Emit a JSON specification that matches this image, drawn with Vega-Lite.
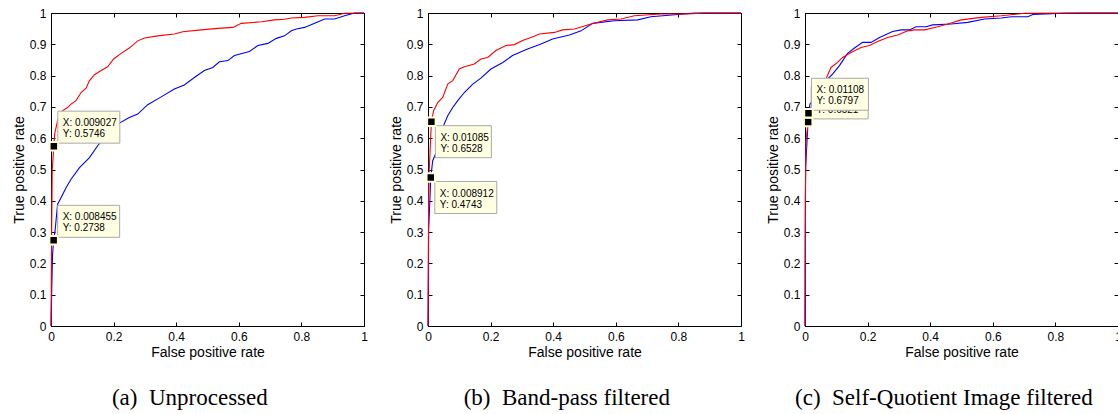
{
  "$schema": "https://vega.github.io/schema/vega-lite/v6.json",
  "padding": {"left": 11, "top": 6, "right": 0, "bottom": 0},
  "background": "white",
  "spacing": 64,
  "bounds": "flush",
  "config": {
    "view": {"stroke": "black", "strokeWidth": 1},
    "axis": {"grid": false, "domain": false, "tickColor": "black", "tickSize": -4, "tickWidth": 1, "labelFont": "Liberation Sans", "labelFontSize": 12, "labelColor": "black", "titleFont": "Liberation Sans", "titleFontSize": 14, "titleFontWeight": "normal", "titleColor": "black", "labelFlush": false, "labelPadding": 9, "titlePadding": 3},
    "title": {"font": "Liberation Serif", "fontSize": 23, "fontWeight": "normal", "color": "black"}
  },
  "datasets": {
    "roc": [
      {"panel":"a","method":"Classifier A","fpr":0,"tpr":0},{"panel":"a","method":"Classifier A","fpr":0.002,"tpr":0.101},{"panel":"a","method":"Classifier A","fpr":0.005,"tpr":0.229},{"panel":"a","method":"Classifier A","fpr":0.008455,"tpr":0.2738},{"panel":"a","method":"Classifier A","fpr":0.013,"tpr":0.304},{"panel":"a","method":"Classifier A","fpr":0.021,"tpr":0.389},{"panel":"a","method":"Classifier A","fpr":0.032,"tpr":0.41},{"panel":"a","method":"Classifier A","fpr":0.048,"tpr":0.442},{"panel":"a","method":"Classifier A","fpr":0.064,"tpr":0.469},{"panel":"a","method":"Classifier A","fpr":0.091,"tpr":0.506},{"panel":"a","method":"Classifier A","fpr":0.123,"tpr":0.538},{"panel":"a","method":"Classifier A","fpr":0.149,"tpr":0.576},{"panel":"a","method":"Classifier A","fpr":0.181,"tpr":0.613},{"panel":"a","method":"Classifier A","fpr":0.213,"tpr":0.645},{"panel":"a","method":"Classifier A","fpr":0.25,"tpr":0.666},{"panel":"a","method":"Classifier A","fpr":0.277,"tpr":0.677},{"panel":"a","method":"Classifier A","fpr":0.309,"tpr":0.707},{"panel":"a","method":"Classifier A","fpr":0.352,"tpr":0.732},{"panel":"a","method":"Classifier A","fpr":0.394,"tpr":0.757},{"panel":"a","method":"Classifier A","fpr":0.426,"tpr":0.77},{"panel":"a","method":"Classifier A","fpr":0.458,"tpr":0.794},{"panel":"a","method":"Classifier A","fpr":0.49,"tpr":0.816},{"panel":"a","method":"Classifier A","fpr":0.517,"tpr":0.826},{"panel":"a","method":"Classifier A","fpr":0.538,"tpr":0.844},{"panel":"a","method":"Classifier A","fpr":0.565,"tpr":0.848},{"panel":"a","method":"Classifier A","fpr":0.586,"tpr":0.864},{"panel":"a","method":"Classifier A","fpr":0.634,"tpr":0.877},{"panel":"a","method":"Classifier A","fpr":0.661,"tpr":0.896},{"panel":"a","method":"Classifier A","fpr":0.693,"tpr":0.903},{"panel":"a","method":"Classifier A","fpr":0.72,"tpr":0.919},{"panel":"a","method":"Classifier A","fpr":0.746,"tpr":0.927},{"panel":"a","method":"Classifier A","fpr":0.768,"tpr":0.943},{"panel":"a","method":"Classifier A","fpr":0.784,"tpr":0.949},{"panel":"a","method":"Classifier A","fpr":0.81,"tpr":0.954},{"panel":"a","method":"Classifier A","fpr":0.848,"tpr":0.97},{"panel":"a","method":"Classifier A","fpr":0.874,"tpr":0.981},{"panel":"a","method":"Classifier A","fpr":0.906,"tpr":0.981},{"panel":"a","method":"Classifier A","fpr":0.938,"tpr":0.991},{"panel":"a","method":"Classifier A","fpr":0.959,"tpr":0.997},{"panel":"a","method":"Classifier A","fpr":0.97,"tpr":1},{"panel":"a","method":"Classifier A","fpr":1,"tpr":1},
      {"panel":"a","method":"Classifier B","fpr":0,"tpr":0},{"panel":"a","method":"Classifier B","fpr":0.002,"tpr":0.3},{"panel":"a","method":"Classifier B","fpr":0.004,"tpr":0.5},{"panel":"a","method":"Classifier B","fpr":0.009027,"tpr":0.5746},{"panel":"a","method":"Classifier B","fpr":0.012,"tpr":0.615},{"panel":"a","method":"Classifier B","fpr":0.021,"tpr":0.656},{"panel":"a","method":"Classifier B","fpr":0.037,"tpr":0.688},{"panel":"a","method":"Classifier B","fpr":0.053,"tpr":0.698},{"panel":"a","method":"Classifier B","fpr":0.064,"tpr":0.709},{"panel":"a","method":"Classifier B","fpr":0.08,"tpr":0.72},{"panel":"a","method":"Classifier B","fpr":0.096,"tpr":0.746},{"panel":"a","method":"Classifier B","fpr":0.112,"tpr":0.76},{"panel":"a","method":"Classifier B","fpr":0.123,"tpr":0.784},{"panel":"a","method":"Classifier B","fpr":0.139,"tpr":0.803},{"panel":"a","method":"Classifier B","fpr":0.16,"tpr":0.816},{"panel":"a","method":"Classifier B","fpr":0.181,"tpr":0.828},{"panel":"a","method":"Classifier B","fpr":0.2,"tpr":0.853},{"panel":"a","method":"Classifier B","fpr":0.224,"tpr":0.871},{"panel":"a","method":"Classifier B","fpr":0.25,"tpr":0.888},{"panel":"a","method":"Classifier B","fpr":0.277,"tpr":0.911},{"panel":"a","method":"Classifier B","fpr":0.299,"tpr":0.92},{"panel":"a","method":"Classifier B","fpr":0.341,"tpr":0.927},{"panel":"a","method":"Classifier B","fpr":0.394,"tpr":0.933},{"panel":"a","method":"Classifier B","fpr":0.421,"tpr":0.94},{"panel":"a","method":"Classifier B","fpr":0.48,"tpr":0.946},{"panel":"a","method":"Classifier B","fpr":0.533,"tpr":0.951},{"panel":"a","method":"Classifier B","fpr":0.581,"tpr":0.954},{"panel":"a","method":"Classifier B","fpr":0.608,"tpr":0.967},{"panel":"a","method":"Classifier B","fpr":0.672,"tpr":0.972},{"panel":"a","method":"Classifier B","fpr":0.714,"tpr":0.978},{"panel":"a","method":"Classifier B","fpr":0.746,"tpr":0.98},{"panel":"a","method":"Classifier B","fpr":0.768,"tpr":0.984},{"panel":"a","method":"Classifier B","fpr":0.81,"tpr":0.986},{"panel":"a","method":"Classifier B","fpr":0.853,"tpr":0.991},{"panel":"a","method":"Classifier B","fpr":0.906,"tpr":0.991},{"panel":"a","method":"Classifier B","fpr":0.938,"tpr":0.999},{"panel":"a","method":"Classifier B","fpr":1,"tpr":1},
      {"panel":"b","method":"Classifier A","fpr":0,"tpr":0},{"panel":"b","method":"Classifier A","fpr":0.001,"tpr":0.112},{"panel":"b","method":"Classifier A","fpr":0.002,"tpr":0.304},{"panel":"b","method":"Classifier A","fpr":0.008912,"tpr":0.4743},{"panel":"b","method":"Classifier A","fpr":0.015,"tpr":0.528},{"panel":"b","method":"Classifier A","fpr":0.026,"tpr":0.554},{"panel":"b","method":"Classifier A","fpr":0.036,"tpr":0.592},{"panel":"b","method":"Classifier A","fpr":0.047,"tpr":0.634},{"panel":"b","method":"Classifier A","fpr":0.063,"tpr":0.672},{"panel":"b","method":"Classifier A","fpr":0.079,"tpr":0.698},{"panel":"b","method":"Classifier A","fpr":0.095,"tpr":0.72},{"panel":"b","method":"Classifier A","fpr":0.116,"tpr":0.746},{"panel":"b","method":"Classifier A","fpr":0.143,"tpr":0.773},{"panel":"b","method":"Classifier A","fpr":0.169,"tpr":0.792},{"panel":"b","method":"Classifier A","fpr":0.201,"tpr":0.821},{"panel":"b","method":"Classifier A","fpr":0.239,"tpr":0.842},{"panel":"b","method":"Classifier A","fpr":0.27,"tpr":0.864},{"panel":"b","method":"Classifier A","fpr":0.318,"tpr":0.885},{"panel":"b","method":"Classifier A","fpr":0.361,"tpr":0.901},{"panel":"b","method":"Classifier A","fpr":0.398,"tpr":0.917},{"panel":"b","method":"Classifier A","fpr":0.452,"tpr":0.93},{"panel":"b","method":"Classifier A","fpr":0.489,"tpr":0.943},{"panel":"b","method":"Classifier A","fpr":0.526,"tpr":0.967},{"panel":"b","method":"Classifier A","fpr":0.595,"tpr":0.975},{"panel":"b","method":"Classifier A","fpr":0.67,"tpr":0.978},{"panel":"b","method":"Classifier A","fpr":0.712,"tpr":0.988},{"panel":"b","method":"Classifier A","fpr":0.798,"tpr":0.995},{"panel":"b","method":"Classifier A","fpr":0.851,"tpr":1},{"panel":"b","method":"Classifier A","fpr":1,"tpr":1},
      {"panel":"b","method":"Classifier B","fpr":0,"tpr":0},{"panel":"b","method":"Classifier B","fpr":0.002,"tpr":0.4},{"panel":"b","method":"Classifier B","fpr":0.004,"tpr":0.5},{"panel":"b","method":"Classifier B","fpr":0.01085,"tpr":0.6528},{"panel":"b","method":"Classifier B","fpr":0.018,"tpr":0.688},{"panel":"b","method":"Classifier B","fpr":0.031,"tpr":0.714},{"panel":"b","method":"Classifier B","fpr":0.047,"tpr":0.73},{"panel":"b","method":"Classifier B","fpr":0.063,"tpr":0.773},{"panel":"b","method":"Classifier B","fpr":0.079,"tpr":0.784},{"panel":"b","method":"Classifier B","fpr":0.1,"tpr":0.821},{"panel":"b","method":"Classifier B","fpr":0.116,"tpr":0.828},{"panel":"b","method":"Classifier B","fpr":0.148,"tpr":0.837},{"panel":"b","method":"Classifier B","fpr":0.169,"tpr":0.853},{"panel":"b","method":"Classifier B","fpr":0.191,"tpr":0.858},{"panel":"b","method":"Classifier B","fpr":0.217,"tpr":0.88},{"panel":"b","method":"Classifier B","fpr":0.249,"tpr":0.896},{"panel":"b","method":"Classifier B","fpr":0.276,"tpr":0.899},{"panel":"b","method":"Classifier B","fpr":0.302,"tpr":0.912},{"panel":"b","method":"Classifier B","fpr":0.329,"tpr":0.922},{"panel":"b","method":"Classifier B","fpr":0.356,"tpr":0.933},{"panel":"b","method":"Classifier B","fpr":0.404,"tpr":0.938},{"panel":"b","method":"Classifier B","fpr":0.43,"tpr":0.946},{"panel":"b","method":"Classifier B","fpr":0.468,"tpr":0.949},{"panel":"b","method":"Classifier B","fpr":0.521,"tpr":0.965},{"panel":"b","method":"Classifier B","fpr":0.574,"tpr":0.978},{"panel":"b","method":"Classifier B","fpr":0.617,"tpr":0.981},{"panel":"b","method":"Classifier B","fpr":0.659,"tpr":0.991},{"panel":"b","method":"Classifier B","fpr":0.744,"tpr":0.997},{"panel":"b","method":"Classifier B","fpr":0.83,"tpr":0.997},{"panel":"b","method":"Classifier B","fpr":0.883,"tpr":1},{"panel":"b","method":"Classifier B","fpr":1,"tpr":1},
      {"panel":"c","method":"Classifier A","fpr":0,"tpr":0},{"panel":"c","method":"Classifier A","fpr":0.001,"tpr":0.293},{"panel":"c","method":"Classifier A","fpr":0.002,"tpr":0.506},{"panel":"c","method":"Classifier A","fpr":0.01108,"tpr":0.6797},{"panel":"c","method":"Classifier A","fpr":0.016,"tpr":0.709},{"panel":"c","method":"Classifier A","fpr":0.041,"tpr":0.741},{"panel":"c","method":"Classifier A","fpr":0.057,"tpr":0.762},{"panel":"c","method":"Classifier A","fpr":0.072,"tpr":0.789},{"panel":"c","method":"Classifier A","fpr":0.088,"tpr":0.805},{"panel":"c","method":"Classifier A","fpr":0.11,"tpr":0.832},{"panel":"c","method":"Classifier A","fpr":0.136,"tpr":0.871},{"panel":"c","method":"Classifier A","fpr":0.158,"tpr":0.888},{"panel":"c","method":"Classifier A","fpr":0.184,"tpr":0.906},{"panel":"c","method":"Classifier A","fpr":0.211,"tpr":0.906},{"panel":"c","method":"Classifier A","fpr":0.238,"tpr":0.922},{"panel":"c","method":"Classifier A","fpr":0.28,"tpr":0.941},{"panel":"c","method":"Classifier A","fpr":0.307,"tpr":0.946},{"panel":"c","method":"Classifier A","fpr":0.334,"tpr":0.946},{"panel":"c","method":"Classifier A","fpr":0.355,"tpr":0.956},{"panel":"c","method":"Classifier A","fpr":0.387,"tpr":0.956},{"panel":"c","method":"Classifier A","fpr":0.408,"tpr":0.962},{"panel":"c","method":"Classifier A","fpr":0.467,"tpr":0.965},{"panel":"c","method":"Classifier A","fpr":0.52,"tpr":0.97},{"panel":"c","method":"Classifier A","fpr":0.574,"tpr":0.981},{"panel":"c","method":"Classifier A","fpr":0.627,"tpr":0.984},{"panel":"c","method":"Classifier A","fpr":0.659,"tpr":0.988},{"panel":"c","method":"Classifier A","fpr":0.712,"tpr":0.988},{"panel":"c","method":"Classifier A","fpr":0.728,"tpr":0.995},{"panel":"c","method":"Classifier A","fpr":0.829,"tpr":0.999},{"panel":"c","method":"Classifier A","fpr":0.893,"tpr":1},{"panel":"c","method":"Classifier A","fpr":1,"tpr":1},
      {"panel":"c","method":"Classifier B","fpr":0,"tpr":0},{"panel":"c","method":"Classifier B","fpr":0.001,"tpr":0.4},{"panel":"c","method":"Classifier B","fpr":0.003,"tpr":0.592},{"panel":"c","method":"Classifier B","fpr":0.0101,"tpr":0.6521},{"panel":"c","method":"Classifier B","fpr":0.014,"tpr":0.688},{"panel":"c","method":"Classifier B","fpr":0.03,"tpr":0.72},{"panel":"c","method":"Classifier B","fpr":0.051,"tpr":0.762},{"panel":"c","method":"Classifier B","fpr":0.067,"tpr":0.789},{"panel":"c","method":"Classifier B","fpr":0.083,"tpr":0.826},{"panel":"c","method":"Classifier B","fpr":0.104,"tpr":0.842},{"panel":"c","method":"Classifier B","fpr":0.12,"tpr":0.858},{"panel":"c","method":"Classifier B","fpr":0.147,"tpr":0.874},{"panel":"c","method":"Classifier B","fpr":0.179,"tpr":0.89},{"panel":"c","method":"Classifier B","fpr":0.206,"tpr":0.896},{"panel":"c","method":"Classifier B","fpr":0.232,"tpr":0.909},{"panel":"c","method":"Classifier B","fpr":0.264,"tpr":0.922},{"panel":"c","method":"Classifier B","fpr":0.296,"tpr":0.93},{"panel":"c","method":"Classifier B","fpr":0.328,"tpr":0.943},{"panel":"c","method":"Classifier B","fpr":0.35,"tpr":0.946},{"panel":"c","method":"Classifier B","fpr":0.382,"tpr":0.946},{"panel":"c","method":"Classifier B","fpr":0.424,"tpr":0.956},{"panel":"c","method":"Classifier B","fpr":0.456,"tpr":0.965},{"panel":"c","method":"Classifier B","fpr":0.499,"tpr":0.978},{"panel":"c","method":"Classifier B","fpr":0.563,"tpr":0.986},{"panel":"c","method":"Classifier B","fpr":0.627,"tpr":0.991},{"panel":"c","method":"Classifier B","fpr":0.701,"tpr":0.999},{"panel":"c","method":"Classifier B","fpr":0.84,"tpr":1},{"panel":"c","method":"Classifier B","fpr":1,"tpr":1}
    ],
    "tips": [
      {"panel":"a","fpr":0.009027,"tpr":0.5746,"label":"X: 0.009027\nY: 0.5746"},
      {"panel":"a","fpr":0.008455,"tpr":0.2738,"label":"X: 0.008455\nY: 0.2738"},
      {"panel":"b","fpr":0.01085,"tpr":0.6528,"label":"X: 0.01085\nY: 0.6528"},
      {"panel":"b","fpr":0.008912,"tpr":0.4743,"label":"X: 0.008912\nY: 0.4743"},
      {"panel":"c","fpr":0.0101,"tpr":0.6521,"label":"X: 0.0101\nY: 0.6521"},
      {"panel":"c","fpr":0.01108,"tpr":0.6797,"label":"X: 0.01108\nY: 0.6797"}
    ]
  },
  "hconcat": [
    {
      "width": 313, "height": 313,
      "title": {"text": "(a)\u00a0 Unprocessed", "orient": "bottom", "frame": "bounds", "anchor": "middle", "baseline": "alphabetic", "offset": 46},
      "resolve": {"axis": {"x": "independent", "y": "independent"}},
      "layer": [
        {"data": {"name": "roc"}, "transform": [{"filter": "datum.panel === 'a'"}],
         "mark": {"type": "line", "strokeWidth": 1.1},
         "encoding": {
           "x": {"field": "fpr", "type": "quantitative", "scale": {"domain": [0, 1], "nice": false}, "axis": {"orient": "bottom", "values": [0, 0.2, 0.4, 0.6, 0.8, 1], "format": "~g", "title": "False positive rate"}},
           "y": {"field": "tpr", "type": "quantitative", "scale": {"domain": [0, 1], "nice": false}, "axis": {"orient": "left", "values": [0, 0.1, 0.2, 0.3, 0.4, 0.5, 0.6, 0.7, 0.8, 0.9, 1], "format": "~g", "title": "True positive rate"}},
           "color": {"field": "method", "type": "nominal", "scale": {"domain": ["Classifier A", "Classifier B"], "range": ["#0000ff", "#ff0000"]}, "legend": null}
         }},
        {"data": {"name": "roc"}, "transform": [{"filter": "datum.panel === 'a'"}],
         "mark": {"type": "point", "opacity": 0},
         "encoding": {
           "x": {"field": "fpr", "type": "quantitative", "axis": {"orient": "top", "values": [0, 0.2, 0.4, 0.6, 0.8, 1], "labels": false, "title": null}},
           "y": {"field": "tpr", "type": "quantitative", "axis": {"orient": "right", "values": [0, 0.1, 0.2, 0.3, 0.4, 0.5, 0.6, 0.7, 0.8, 0.9, 1], "labels": false, "title": null}}
         }},
        {"data": {"name": "tips"}, "transform": [{"filter": "datum.panel === 'a'"}],
         "mark": {"type": "point", "shape": "M4,-3L66,-3L66,-35L4,-35Z", "size": 4, "filled": true, "fill": "#ffffe1", "stroke": "#a9a9a9", "strokeWidth": 1, "opacity": 1},
         "encoding": {"x": {"field": "fpr", "type": "quantitative", "axis": null}, "y": {"field": "tpr", "type": "quantitative", "axis": null}}},
        {"data": {"name": "tips"}, "transform": [{"filter": "datum.panel === 'a'"}],
         "mark": {"type": "text", "align": "left", "baseline": "alphabetic", "dx": 9, "dy": -20, "lineBreak": "\n", "lineHeight": 11, "font": "Liberation Sans", "fontSize": 10, "color": "black"},
         "encoding": {"x": {"field": "fpr", "type": "quantitative", "axis": null}, "y": {"field": "tpr", "type": "quantitative", "axis": null}, "text": {"field": "label"}}},
        {"data": {"name": "tips"}, "transform": [{"filter": "datum.panel === 'a'"}],
         "mark": {"type": "point", "shape": "square", "size": 72, "filled": true, "fill": "black", "stroke": "#ffffd8", "strokeWidth": 2, "opacity": 1},
         "encoding": {"x": {"field": "fpr", "type": "quantitative", "axis": null}, "y": {"field": "tpr", "type": "quantitative", "axis": null}}}
      ]
    },
    {
      "width": 313, "height": 313,
      "title": {"text": "(b)\u00a0 Band-pass filtered", "orient": "bottom", "frame": "bounds", "anchor": "middle", "baseline": "alphabetic", "offset": 46},
      "resolve": {"axis": {"x": "independent", "y": "independent"}},
      "layer": [
        {"data": {"name": "roc"}, "transform": [{"filter": "datum.panel === 'b'"}],
         "mark": {"type": "line", "strokeWidth": 1.1},
         "encoding": {
           "x": {"field": "fpr", "type": "quantitative", "scale": {"domain": [0, 1], "nice": false}, "axis": {"orient": "bottom", "values": [0, 0.2, 0.4, 0.6, 0.8, 1], "format": "~g", "title": "False positive rate"}},
           "y": {"field": "tpr", "type": "quantitative", "scale": {"domain": [0, 1], "nice": false}, "axis": {"orient": "left", "values": [0, 0.1, 0.2, 0.3, 0.4, 0.5, 0.6, 0.7, 0.8, 0.9, 1], "format": "~g", "title": "True positive rate"}},
           "color": {"field": "method", "type": "nominal", "scale": {"domain": ["Classifier A", "Classifier B"], "range": ["#0000ff", "#ff0000"]}, "legend": null}
         }},
        {"data": {"name": "roc"}, "transform": [{"filter": "datum.panel === 'b'"}],
         "mark": {"type": "point", "opacity": 0},
         "encoding": {
           "x": {"field": "fpr", "type": "quantitative", "axis": {"orient": "top", "values": [0, 0.2, 0.4, 0.6, 0.8, 1], "labels": false, "title": null}},
           "y": {"field": "tpr", "type": "quantitative", "axis": {"orient": "right", "values": [0, 0.1, 0.2, 0.3, 0.4, 0.5, 0.6, 0.7, 0.8, 0.9, 1], "labels": false, "title": null}}
         }},
        {"data": {"name": "tips"}, "transform": [{"filter": "datum.panel === 'b' && datum.tpr > 0.6"}],
         "mark": {"type": "point", "shape": "M4,4L60,4L60,36L4,36Z", "size": 4, "filled": true, "fill": "#ffffe1", "stroke": "#a9a9a9", "strokeWidth": 1, "opacity": 1},
         "encoding": {"x": {"field": "fpr", "type": "quantitative", "axis": null}, "y": {"field": "tpr", "type": "quantitative", "axis": null}}},
        {"data": {"name": "tips"}, "transform": [{"filter": "datum.panel === 'b' && datum.tpr < 0.6"}],
         "mark": {"type": "point", "shape": "M4,4L66,4L66,36L4,36Z", "size": 4, "filled": true, "fill": "#ffffe1", "stroke": "#a9a9a9", "strokeWidth": 1, "opacity": 1},
         "encoding": {"x": {"field": "fpr", "type": "quantitative", "axis": null}, "y": {"field": "tpr", "type": "quantitative", "axis": null}}},
        {"data": {"name": "tips"}, "transform": [{"filter": "datum.panel === 'b'"}],
         "mark": {"type": "text", "align": "left", "baseline": "alphabetic", "dx": 9, "dy": 19, "lineBreak": "\n", "lineHeight": 11, "font": "Liberation Sans", "fontSize": 10, "color": "black"},
         "encoding": {"x": {"field": "fpr", "type": "quantitative", "axis": null}, "y": {"field": "tpr", "type": "quantitative", "axis": null}, "text": {"field": "label"}}},
        {"data": {"name": "tips"}, "transform": [{"filter": "datum.panel === 'b'"}],
         "mark": {"type": "point", "shape": "square", "size": 72, "filled": true, "fill": "black", "stroke": "#ffffd8", "strokeWidth": 2, "opacity": 1},
         "encoding": {"x": {"field": "fpr", "type": "quantitative", "axis": null}, "y": {"field": "tpr", "type": "quantitative", "axis": null}}}
      ]
    },
    {
      "width": 313, "height": 313,
      "title": {"text": "(c)\u00a0 Self-Quotient Image filtered", "orient": "bottom", "frame": "bounds", "anchor": "middle", "baseline": "alphabetic", "offset": 46},
      "resolve": {"axis": {"x": "independent", "y": "independent"}},
      "layer": [
        {"data": {"name": "roc"}, "transform": [{"filter": "datum.panel === 'c'"}],
         "mark": {"type": "line", "strokeWidth": 1.1},
         "encoding": {
           "x": {"field": "fpr", "type": "quantitative", "scale": {"domain": [0, 1], "nice": false}, "axis": {"orient": "bottom", "values": [0, 0.2, 0.4, 0.6, 0.8, 1], "format": "~g", "title": "False positive rate"}},
           "y": {"field": "tpr", "type": "quantitative", "scale": {"domain": [0, 1], "nice": false}, "axis": {"orient": "left", "values": [0, 0.1, 0.2, 0.3, 0.4, 0.5, 0.6, 0.7, 0.8, 0.9, 1], "format": "~g", "title": "True positive rate"}},
           "color": {"field": "method", "type": "nominal", "scale": {"domain": ["Classifier A", "Classifier B"], "range": ["#0000ff", "#ff0000"]}, "legend": null}
         }},
        {"data": {"name": "roc"}, "transform": [{"filter": "datum.panel === 'c'"}],
         "mark": {"type": "point", "opacity": 0},
         "encoding": {
           "x": {"field": "fpr", "type": "quantitative", "axis": {"orient": "top", "values": [0, 0.2, 0.4, 0.6, 0.8, 1], "labels": false, "title": null}},
           "y": {"field": "tpr", "type": "quantitative", "axis": {"orient": "right", "values": [0, 0.1, 0.2, 0.3, 0.4, 0.5, 0.6, 0.7, 0.8, 0.9, 1], "labels": false, "title": null}}
         }},
        {"data": {"name": "tips"}, "transform": [{"filter": "datum.panel === 'c' && datum.tpr < 0.67"}],
         "mark": {"type": "point", "shape": "M3,-3L60,-3L60,-35L3,-35Z", "size": 4, "filled": true, "fill": "#ffffe1", "stroke": "#a9a9a9", "strokeWidth": 1, "opacity": 1},
         "encoding": {"x": {"field": "fpr", "type": "quantitative", "axis": null}, "y": {"field": "tpr", "type": "quantitative", "axis": null}}},
        {"data": {"name": "tips"}, "transform": [{"filter": "datum.panel === 'c' && datum.tpr < 0.67"}],
         "mark": {"type": "text", "align": "left", "baseline": "alphabetic", "dx": 8, "dy": -20, "lineBreak": "\n", "lineHeight": 11, "font": "Liberation Sans", "fontSize": 10, "color": "black"},
         "encoding": {"x": {"field": "fpr", "type": "quantitative", "axis": null}, "y": {"field": "tpr", "type": "quantitative", "axis": null}, "text": {"field": "label"}}},
        {"data": {"name": "tips"}, "transform": [{"filter": "datum.panel === 'c' && datum.tpr > 0.67"}],
         "mark": {"type": "point", "shape": "M3,-3L60,-3L60,-35L3,-35Z", "size": 4, "filled": true, "fill": "#ffffe1", "stroke": "#a9a9a9", "strokeWidth": 1, "opacity": 1},
         "encoding": {"x": {"field": "fpr", "type": "quantitative", "axis": null}, "y": {"field": "tpr", "type": "quantitative", "axis": null}}},
        {"data": {"name": "tips"}, "transform": [{"filter": "datum.panel === 'c' && datum.tpr > 0.67"}],
         "mark": {"type": "text", "align": "left", "baseline": "alphabetic", "dx": 8, "dy": -20, "lineBreak": "\n", "lineHeight": 11, "font": "Liberation Sans", "fontSize": 10, "color": "black"},
         "encoding": {"x": {"field": "fpr", "type": "quantitative", "axis": null}, "y": {"field": "tpr", "type": "quantitative", "axis": null}, "text": {"field": "label"}}},
        {"data": {"name": "tips"}, "transform": [{"filter": "datum.panel === 'c'"}],
         "mark": {"type": "point", "shape": "square", "size": 72, "filled": true, "fill": "black", "stroke": "#ffffd8", "strokeWidth": 2, "opacity": 1},
         "encoding": {"x": {"field": "fpr", "type": "quantitative", "axis": null}, "y": {"field": "tpr", "type": "quantitative", "axis": null}}}
      ]
    }
  ]
}
